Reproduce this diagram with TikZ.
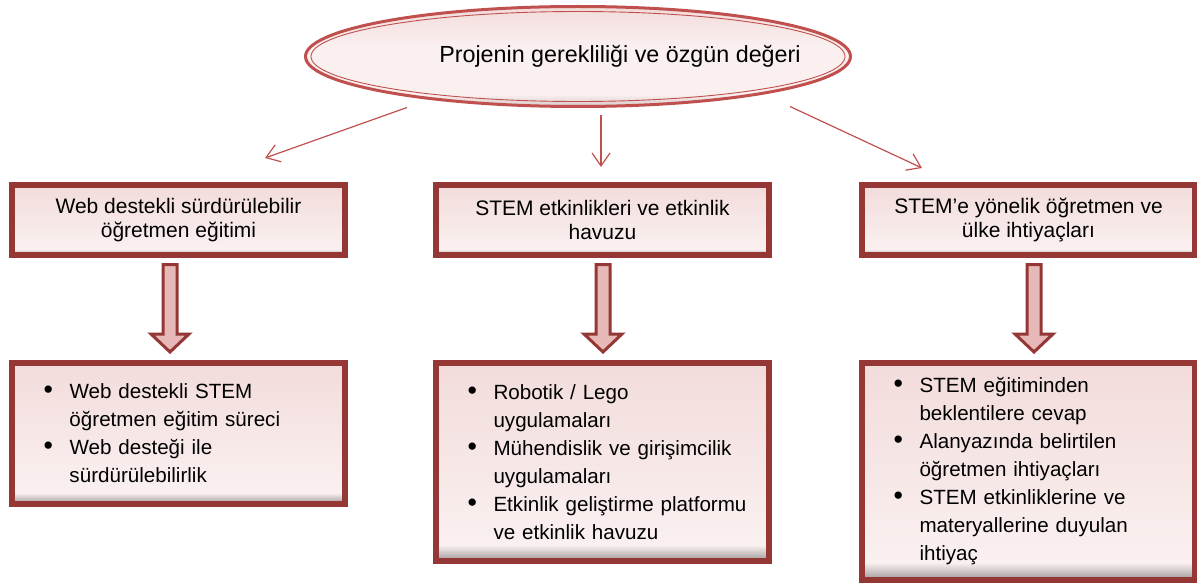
\documentclass[tikz,border=0pt]{standalone}
\usepackage{fontspec}
\setmainfont{Liberation Sans}
\usetikzlibrary{shapes.geometric,arrows.meta}

\definecolor{boxred}{HTML}{953735}
\definecolor{accent}{HTML}{C0504D}
\definecolor{pinktop}{HTML}{F2DCDB}
\definecolor{pinklight}{HTML}{FAF0F0}
\definecolor{shadegray}{HTML}{9E9898}
\definecolor{ellgray}{HTML}{D8C8C8}
\definecolor{arrowpink}{HTML}{E6B9B8}

\pgfdeclareverticalshading{boxshade}{100bp}{color(0bp)=(shadegray); color(25bp)=(shadegray); color(29bp)=(pinklight); color(75bp)=(pinktop); color(100bp)=(pinktop)}
\pgfdeclareverticalshading{ellshade}{100bp}{color(0bp)=(ellgray); color(25bp)=(ellgray); color(31bp)=(pinklight); color(55bp)=(pinklight); color(75bp)=(pinktop); color(100bp)=(pinktop)}

\newcommand{\bitem}{\hspace*{10pt}\makebox[26pt][l]{\scalebox{1.3}{\textbullet}}}
\newcommand{\bcont}{\hspace*{36pt}}

\begin{document}
\begin{tikzpicture}[x=1pt,y=-1pt,
    topbox/.style={draw=boxred, line width=6pt, shading=boxshade,
      minimum width=333pt, minimum height=70pt, align=center,
      font=\fontsize{21}{24}\selectfont},
    listbox/.style={draw=boxred, line width=6pt, shading=boxshade,
      anchor=north, text width=290pt, inner xsep=21.5pt, align=left,
      font=\fontsize{20.6}{28}\selectfont},
    thinarrow/.style={draw=accent, line width=1.2pt,
      -{Straight Barb[length=13pt,width=18pt]}},
    bigarrow/.style={draw=boxred, line width=3pt, fill=arrowpink}]
  \useasboundingbox (0,0) rectangle (1197,583);

  % main idea
  \node[ellipse, draw=accent, line width=3pt, shading=ellshade,
    minimum width=545pt, minimum height=100pt, inner sep=0pt] (ell) at (578,56.5) {};
  \draw[accent, line width=0.9pt] (ell.center) ellipse [x radius=267pt, y radius=45pt];
  \node[font=\fontsize{23.3}{28}\selectfont] (title) at ([xshift=42pt]ell.center)
    {Projenin gerekliliği ve özgün değeri};

  % three topics
  \node[topbox] (t1) at (178.5,220) {Web destekli sürdürülebilir\\öğretmen eğitimi};
  \node[topbox] (t2) at (602.5,220) {STEM etkinlikleri ve etkinlik\\havuzu};
  \node[topbox] (t3) at (1028.5,220) {STEM’e yönelik öğretmen ve\\ülke ihtiyaçları};

  \coordinate (e1) at (265,158);
  \coordinate (e2) at (601,167);
  \coordinate (e3) at (922,168);
  \draw[thinarrow] ([shift={(-171,51)}]ell.center) -- (e1);
  \draw[thinarrow] ([shift={(23,59)}]ell.center) -- (e2);
  \draw[thinarrow] ([shift={(212,50)}]ell.center) -- (e3);

  % details
  \node[listbox, minimum height=141pt] (b1) at (178.5,360)
    {\bitem Web destekli STEM\\
     \bcont öğretmen eğitim süreci\\
     \bitem Web desteği ile\\
     \bcont sürdürülebilirlik};
  \node[listbox, minimum height=198pt] (b2) at (602.5,360)
    {\bitem Robotik / Lego\\
     \bcont uygulamaları\\
     \bitem Mühendislik ve girişimcilik\\
     \bcont uygulamaları\\
     \bitem Etkinlik geliştirme platformu\\
     \bcont ve etkinlik havuzu};
  \node[listbox, minimum height=217pt] (b3) at (1028.5,360)
    {\bitem STEM eğitiminden\\
     \bcont beklentilere cevap\\
     \bitem Alanyazında belirtilen\\
     \bcont öğretmen ihtiyaçları\\
     \bitem STEM etkinliklerine ve\\
     \bcont materyallerine duyulan\\
     \bcont ihtiyaç};

  % block arrows between the rows
  \foreach \x in {170,603,1034}
    \draw[bigarrow] (\x-7,264.5) -- (\x+7,264.5) -- (\x+7,334) -- (\x+19,334)
      -- (\x,352) -- (\x-19,334) -- (\x-7,334) -- cycle;
\end{tikzpicture}
\end{document}
